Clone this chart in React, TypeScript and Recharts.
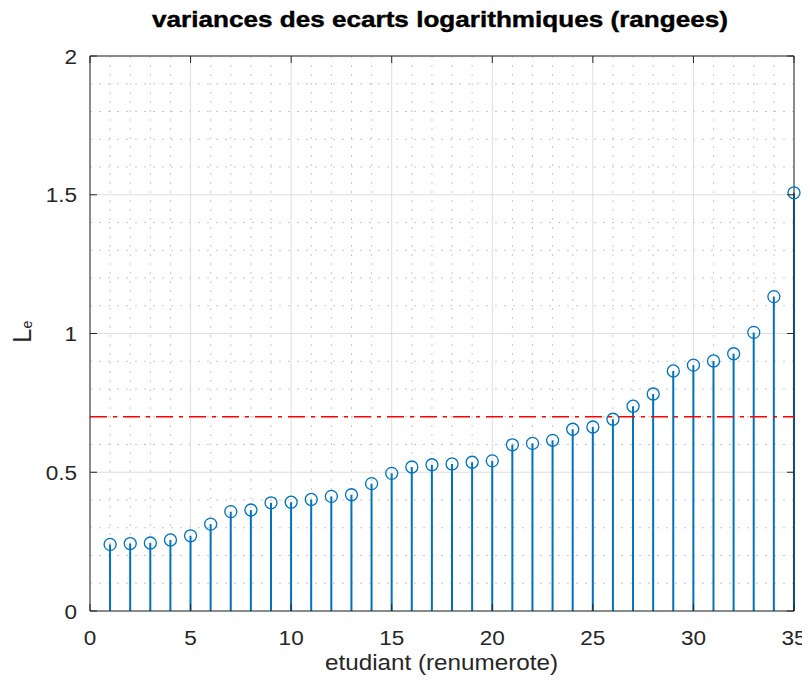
import React from 'react';
import { ComposedChart, Bar, Scatter, XAxis, YAxis, CartesianGrid, ReferenceLine } from 'recharts';

const students = [1, 2, 3, 4, 5, 6, 7, 8, 9, 10, 11, 12, 13, 14, 15, 16, 17, 18, 19, 20, 21, 22, 23, 24, 25, 26, 27, 28, 29, 30, 31, 32, 33, 34, 35];
const variances = [0.240, 0.243, 0.245, 0.256, 0.271, 0.313, 0.358, 0.364, 0.390, 0.392, 0.402, 0.413, 0.419, 0.459, 0.496, 0.519, 0.527, 0.530, 0.536, 0.541, 0.599, 0.604, 0.615, 0.655, 0.663, 0.691, 0.738, 0.782, 0.865, 0.886, 0.901, 0.927, 1.004, 1.133, 1.507];
const threshold = 0.7;
const xTicks = [0, 5, 10, 15, 20, 25, 30, 35];
const yTicks = [0, 0.5, 1, 1.5, 2];
const xMinor = [1, 2, 3, 4, 6, 7, 8, 9, 11, 12, 13, 14, 16, 17, 18, 19, 21, 22, 23, 24, 26, 27, 28, 29, 31, 32, 33, 34];
const yMinor = [0.1, 0.2, 0.3, 0.4, 0.6, 0.7, 0.8, 0.9, 1.1, 1.2, 1.3, 1.4, 1.6, 1.7, 1.8, 1.9];
const titleText = 'variances des ecarts logarithmiques (rangees)';
const xLabelText = 'etudiant (renumerote)';
const yLabelMain = 'L';
const yLabelSub = 'e';

const data = students.map((x, i) => ({ x, v: variances[i] }));

const W = 802;
const H = 680;
const PLOT_W = 704;
const PLOT_H = 555;
const FONT = '"Liberation Sans", Arial, Helvetica, sans-serif';
const AX = '#262626';
const BLUE = '#0072BD';

const XTick = (props: any) => {
  const { x, y, payload } = props;
  return (
    <g>
      <line x1={x} x2={x} y1={y} y2={y - 7} stroke={AX} strokeWidth={1} />
      <line x1={x} x2={x} y1={y - PLOT_H} y2={y - PLOT_H + 7} stroke={AX} strokeWidth={1} />
      <text
        transform={`translate(${x} ${y + 34}) scale(1.1 1)`}
        textAnchor="middle"
        fontSize={20.5}
        fontFamily={FONT}
        fill={AX}
      >
        {String(payload.value)}
      </text>
    </g>
  );
};

const YTick = (props: any) => {
  const { x, y, payload } = props;
  return (
    <g>
      <line x1={x} x2={x + 7} y1={y} y2={y} stroke={AX} strokeWidth={1} />
      <line x1={x + PLOT_W} x2={x + PLOT_W - 7} y1={y} y2={y} stroke={AX} strokeWidth={1} />
      <text
        transform={`translate(${x - 13} ${y + 7.5}) scale(1.1 1)`}
        textAnchor="end"
        fontSize={20.5}
        fontFamily={FONT}
        fill={AX}
      >
        {String(payload.value)}
      </text>
    </g>
  );
};

const StemHead = (props: any) => {
  const { cx, cy } = props;
  if (cx == null || cy == null) return <g />;
  return <circle cx={cx} cy={cy} r={6} fill="none" stroke={BLUE} strokeWidth={1.3} />;
};

export default function App() {
  return (
    <div style={{ position: 'relative', width: W, height: H }}>
      <ComposedChart
        width={W}
        height={H}
        data={data}
        margin={{ top: 48, right: 16, bottom: 0, left: 0 }}
        style={{ background: '#ffffff' }}
      >
        <CartesianGrid
          horizontalValues={yMinor}
          verticalValues={xMinor}
          stroke="#c8c8c8"
          strokeDasharray="2 7"
          strokeWidth={1}
        />
        <CartesianGrid
          horizontalValues={yTicks}
          verticalValues={xTicks}
          stroke="#dedede"
          strokeWidth={1}
        />
        <XAxis
          dataKey="x"
          type="number"
          domain={[0, 35]}
          ticks={xTicks}
          interval={0}
          tickLine={false}
          tickSize={0}
          tickMargin={0}
          tick={<XTick />}
          axisLine={{ stroke: AX, strokeWidth: 1 }}
          height={77}
        />
        <YAxis
          type="number"
          domain={[0, 2]}
          ticks={yTicks}
          interval={0}
          tickLine={false}
          tickSize={0}
          tickMargin={0}
          tick={<YTick />}
          axisLine={{ stroke: AX, strokeWidth: 1 }}
          width={82}
        />
        <ReferenceLine y={2} stroke={AX} strokeWidth={1} />
        <ReferenceLine x={35} stroke={AX} strokeWidth={1} />
        <Bar dataKey="v" barSize={2} fill={BLUE} isAnimationActive={false} />
        <ReferenceLine y={threshold} stroke="#ff0000" strokeWidth={1.3} strokeDasharray="17 6 4 6" />
        <Scatter dataKey="v" shape={<StemHead />} isAnimationActive={false} />
      </ComposedChart>
      <svg
        width={W}
        height={H}
        style={{ position: 'absolute', left: 0, top: 0, pointerEvents: 'none' }}
      >
        <text
          x={432}
          y={19}
          textAnchor="middle"
          fontSize={21.5}
          fontWeight="bold"
          fontFamily={FONT}
          fill="#000000"
          stroke="#000000"
          strokeWidth={0.4}
          textLength={576}
          lengthAdjust="spacingAndGlyphs"
        >
          {titleText}
        </text>
        <text
          x={433.5}
          y={662}
          textAnchor="middle"
          fontSize={22}
          fontFamily={FONT}
          fill={AX}
          textLength={233}
          lengthAdjust="spacingAndGlyphs"
        >
          {xLabelText}
        </text>
        <text transform="translate(23 335) rotate(-90)" fontFamily={FONT} fill={AX}>
          <tspan fontSize={26}>{yLabelMain}</tspan>
          <tspan fontSize={14} dy={1}>{yLabelSub}</tspan>
        </text>
      </svg>
    </div>
  );
}
